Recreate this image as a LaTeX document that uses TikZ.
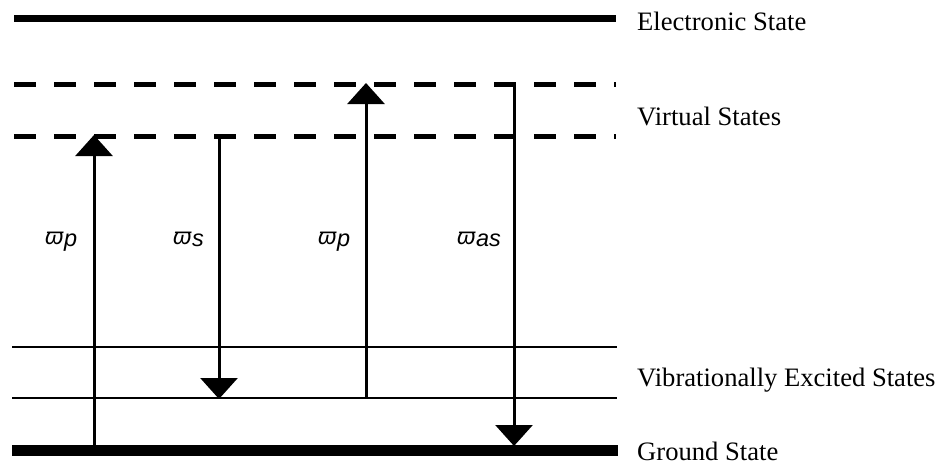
\documentclass[tikz,border=0pt]{standalone}
\usepackage{fontspec}
\setmainfont{Liberation Serif}
\newfontfamily\grfont{Liberation Sans}
\usetikzlibrary{arrows.meta}
\tikzset{
  level/.style={line width=#1, line cap=butt},
  virt/.style={line width=5pt, dash pattern=on 22pt off 18pt},
  trans/.style={line width=3pt, -{Triangle[width=37pt,length=21pt]}, shorten >=-1pt},
  lbl/.style={anchor=base west, inner sep=0pt, font=\fontsize{26.6}{30}\selectfont},
  wlbl/.style={anchor=base west, inner sep=0pt, font=\grfont\itshape\fontsize{23.5}{26}\selectfont}
}
\newcommand{\wsub}[1]{ϖ\kern0.5pt\raisebox{-2.5pt}{#1}}
\begin{document}
\begin{tikzpicture}[x=1pt,y=-1pt]
\useasboundingbox (0,0) rectangle (941,469);
% levels
\draw[level=7pt] (14,18) -- (616,18);
\draw[virt] (14,84) -- (616,84);
\draw[virt] (14,136) -- (616,136);
\draw[level=2pt] (12,347) -- (617,347);
\draw[level=2pt] (12,398) -- (617,398);
\draw[level=11pt] (12,450) -- (618,450);
% coordinates
\coordinate (a1s) at (94,445);
\coordinate (a1e) at (94,136);
\coordinate (a2s) at (219,136);
\coordinate (a2e) at (219,398);
\coordinate (a3s) at (366,398);
\coordinate (a3e) at (366,84);
\coordinate (a4s) at (514,84);
\coordinate (a4e) at (514,445);
\draw[trans] (a1s) -- (a1e);
\draw[trans] (a2s) -- (a2e);
\draw[trans] (a3s) -- (a3e);
\draw[trans] (a4s) -- (a4e);
% labels
\node[lbl] (le) at (637,30) {Electronic State};
\node[lbl] (lv) at (637,125) {Virtual States};
\node[lbl] (lx) at (637,386) {Vibrationally Excited States};
\node[lbl] (lg) at (637,460) {Ground State};
\node[wlbl] (w1) at (45,244) {\wsub{p}};
\node[wlbl] (w2) at (173,244) {\wsub{s}};
\node[wlbl] (w3) at (318,244) {\wsub{p}};
\node[wlbl] (w4) at (457,244) {\wsub{as}};
\end{tikzpicture}
\end{document}
